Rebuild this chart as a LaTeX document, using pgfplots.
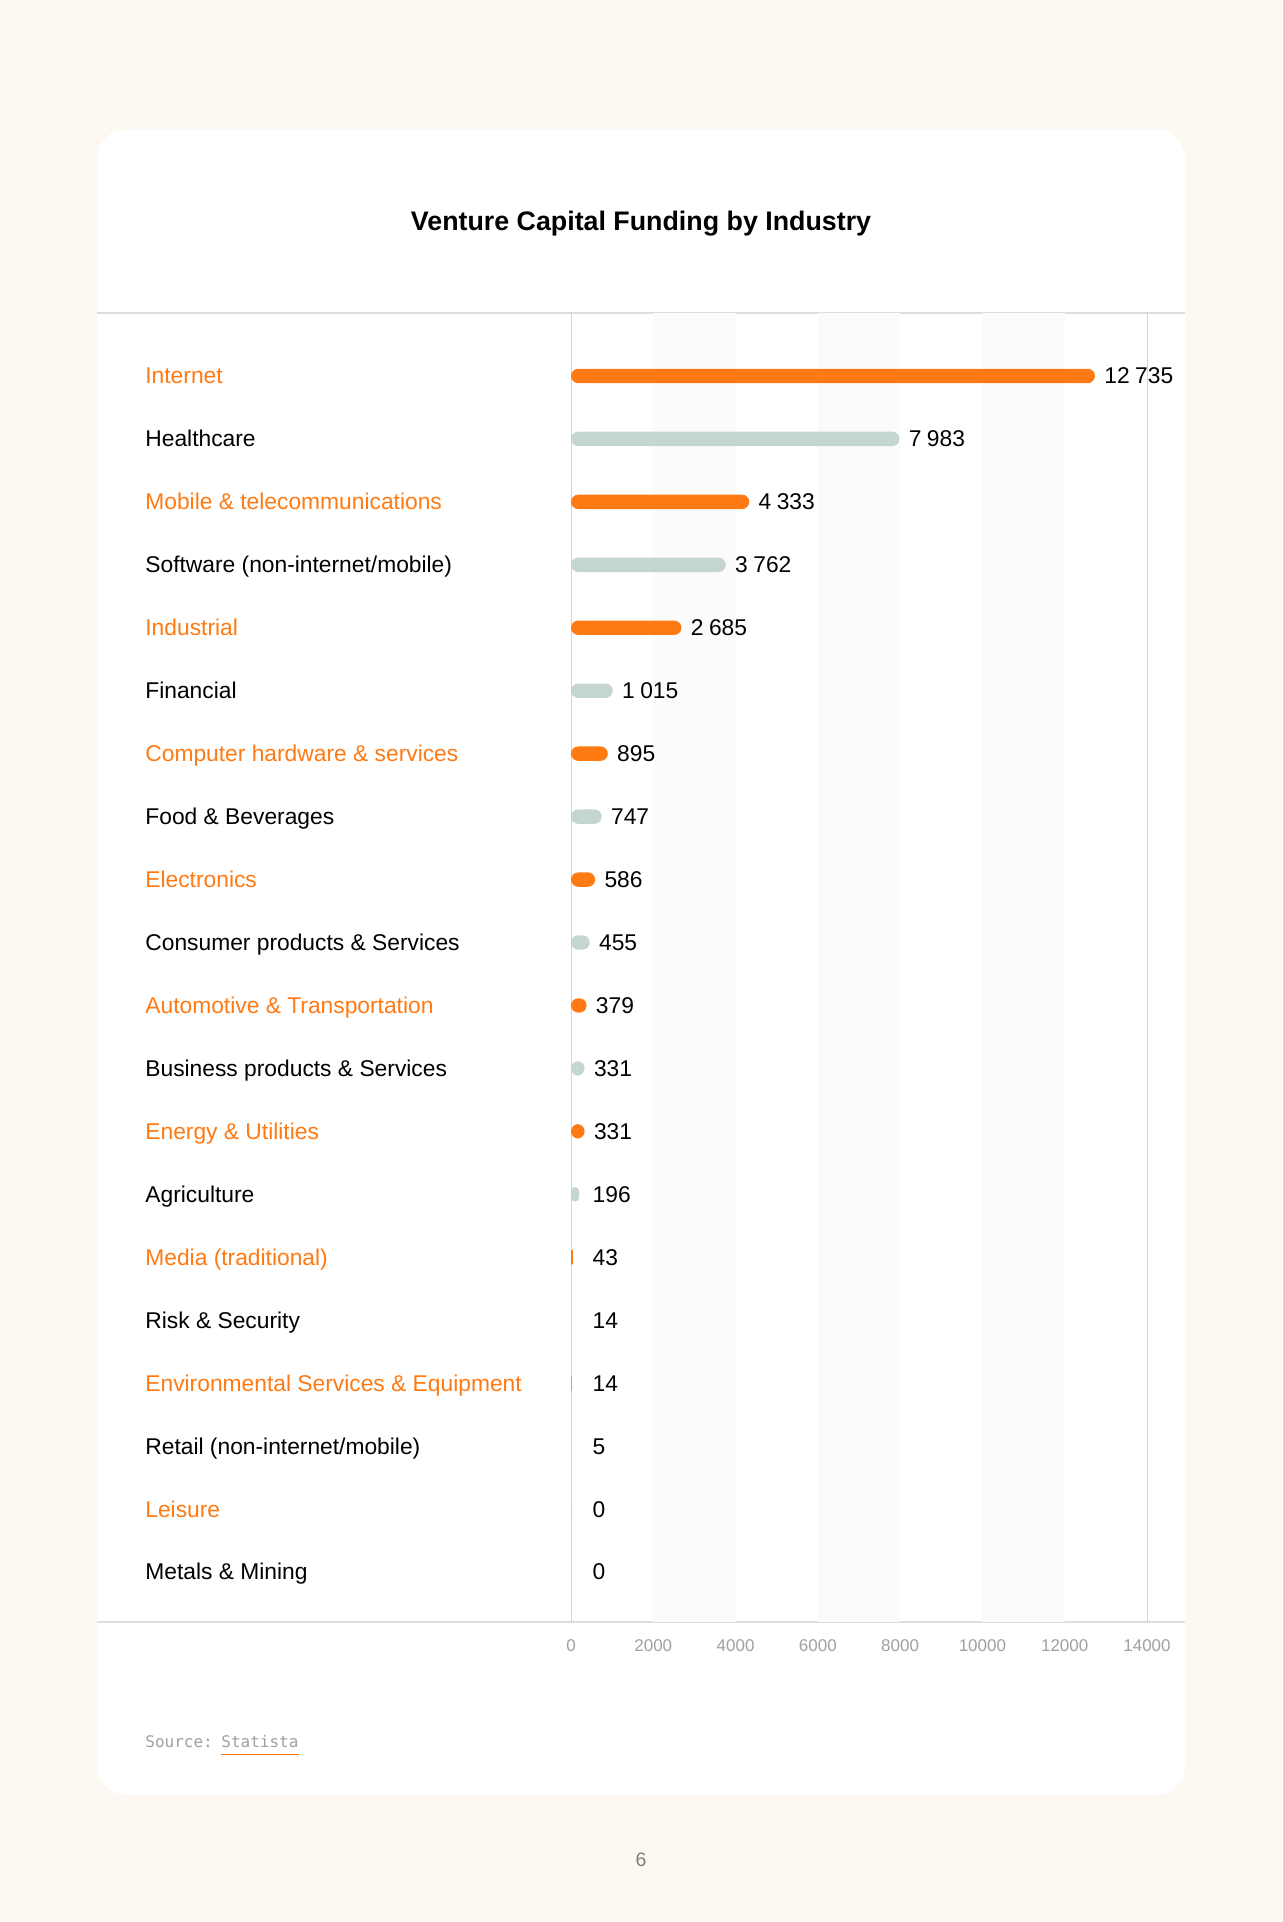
\documentclass[border=0pt]{standalone}
\usepackage{fontspec}
\setmainfont{Liberation Sans}
\newfontfamily\monofont{DejaVu Sans Mono}
\usepackage{pgfplots}
\pgfplotsset{compat=1.18}
\usepackage{pgfplotstable}

\definecolor{bgcream}{RGB}{254,248,243}
\definecolor{vcorange}{RGB}{255,122,18}
\definecolor{vcgray}{RGB}{196,214,207}
\definecolor{sepgray}{RGB}{221,221,221}
\definecolor{axgray}{RGB}{212,212,212}
\definecolor{stripe}{RGB}{250,251,250}
\definecolor{tickgray}{RGB}{160,160,160}

% y = row index (0 = top), v = value, lx = where the value label sits
\pgfplotstableread{
y v lx
0 12735 12735
2 4333 4333
4 2685 2685
6 895 895
8 586 586
10 379 379
12 331 331
14 43 300
16 14 300
18 0 300
}\orangedata

\pgfplotstableread{
y v lx
1 7983 7983
3 3762 3762
5 1015 1015
7 747 747
9 455 455
11 331 331
13 196 300
15 14 300
17 5 300
19 0 300
}\graydata

\newcommand{\lblfont}{\fontsize{11.4}{13}\selectfont}
\pgfplotsset{
    vcbar/.style={xbar, bar width=7.2pt, bar shift=0pt, draw=none},
    vclabel/.style={draw=none, mark=none, point meta=\thisrow{v},
        nodes near coords={\pgfmathprintnumber[fixed, precision=0, 1000 sep={\hspace{0.24em}}]{\pgfplotspointmeta}},
        every node near coord/.append style={anchor=base west, xshift=4.5pt, yshift=-4pt,
            inner sep=0pt, font=\lblfont, text=black}},
}

\begin{document}
\begin{tikzpicture}
% page and card (coordinates in output pixels, 1px = 0.5pt, y downwards)
\begin{scope}[x=0.5pt,y=-0.5pt]
\fill[bgcream] (0,0) rectangle (1282,1922);
\fill[white, rounded corners=15pt] (97,129) rectangle (1185,1795);
\node[anchor=base, font=\bfseries\fontsize{13.4}{15}\selectfont] at (641,230) {Venture Capital Funding by Industry};
\draw[sepgray, line width=0.75pt] (97,313) -- (1185,313);
\draw[sepgray, line width=0.75pt] (97,1622) -- (1185,1622);
% source and page number
\node[anchor=base west, inner sep=0pt, font=\monofont\fontsize{8}{10}\selectfont, text=tickgray] at (145,1747) {Source:};
\node[anchor=base west, inner sep=0pt, font=\monofont\fontsize{8}{10}\selectfont, text=tickgray] (st) at (221,1747) {Statista};
\draw[vcorange, line width=0.5pt] ([yshift=-3.5pt]st.base west) -- ([yshift=-3.5pt]st.base east);
\node[text=gray, font=\fontsize{9.75}{11}\selectfont] at (641,1860) {6};
\end{scope}

\begin{axis}[
    at={(285.5pt,-811pt)}, anchor=south west,
    scale only axis, width=288pt, height=654.5pt,
    xmin=0, xmax=14000,
    y dir=reverse, ymin=-1, ymax=19.795,
    axis line style={draw=none},
    major tick length=0pt,
    xtick={0,2000,...,14000},
    scaled x ticks=false,
    ytick={0,...,19},
    yticklabels={
        \textcolor{vcorange}{Internet},
        Healthcare,
        \textcolor{vcorange}{Mobile \& telecommunications},
        Software (non-internet/mobile),
        \textcolor{vcorange}{Industrial},
        Financial,
        \textcolor{vcorange}{Computer hardware \& services},
        Food \& Beverages,
        \textcolor{vcorange}{Electronics},
        Consumer products \& Services,
        \textcolor{vcorange}{Automotive \& Transportation},
        Business products \& Services,
        \textcolor{vcorange}{Energy \& Utilities},
        Agriculture,
        \textcolor{vcorange}{Media (traditional)},
        Risk \& Security,
        \textcolor{vcorange}{Environmental Services \& Equipment},
        Retail (non-internet/mobile),
        \textcolor{vcorange}{Leisure},
        Metals \& Mining},
    yticklabel style={anchor=base west, xshift=-213pt, yshift=-4pt, inner sep=0pt, font=\lblfont},
    xticklabel style={anchor=center, yshift=-12pt, inner sep=0pt, font=\fontsize{8.5}{10}\selectfont, text=tickgray},
    /pgf/number format/assume math mode=true,
    /pgf/number format/fixed,
    /pgf/number format/1000 sep={},
    clip=false,
]
% faint background bands
\fill[stripe] (axis cs:2000,-1) rectangle (axis cs:4000,19.795);
\fill[stripe] (axis cs:6000,-1) rectangle (axis cs:8000,19.795);
\fill[stripe] (axis cs:10000,-1) rectangle (axis cs:12000,19.795);
\draw[axgray, line width=0.5pt] (axis cs:0,-1) -- (axis cs:0,19.795);
\draw[axgray, line width=0.5pt] (axis cs:14000,-1) -- (axis cs:14000,19.795);

% pill-shaped bars; the corner radius is cut down for the shortest ones
\addplot[vcbar, fill=vcorange, rounded corners=3.6pt, restrict x to domain=300:20000]
    table[x=v, y=y] {\orangedata};
\addplot[vcbar, fill=vcorange, restrict x to domain=0:299]
    table[x=v, y=y] {\orangedata};
\addplot[vcbar, fill=vcgray, rounded corners=3.6pt, restrict x to domain=300:20000]
    table[x=v, y=y] {\graydata};
\addplot[vcbar, fill=vcgray, rounded corners=1.9pt, restrict x to domain=100:299]
    table[x=v, y=y] {\graydata};
\addplot[vcbar, fill=vcgray, restrict x to domain=0:99]
    table[x=v, y=y] {\graydata};

% value labels
\addplot[vclabel] table[x=lx, y=y] {\orangedata};
\addplot[vclabel] table[x=lx, y=y] {\graydata};
\end{axis}
\end{tikzpicture}
\end{document}
